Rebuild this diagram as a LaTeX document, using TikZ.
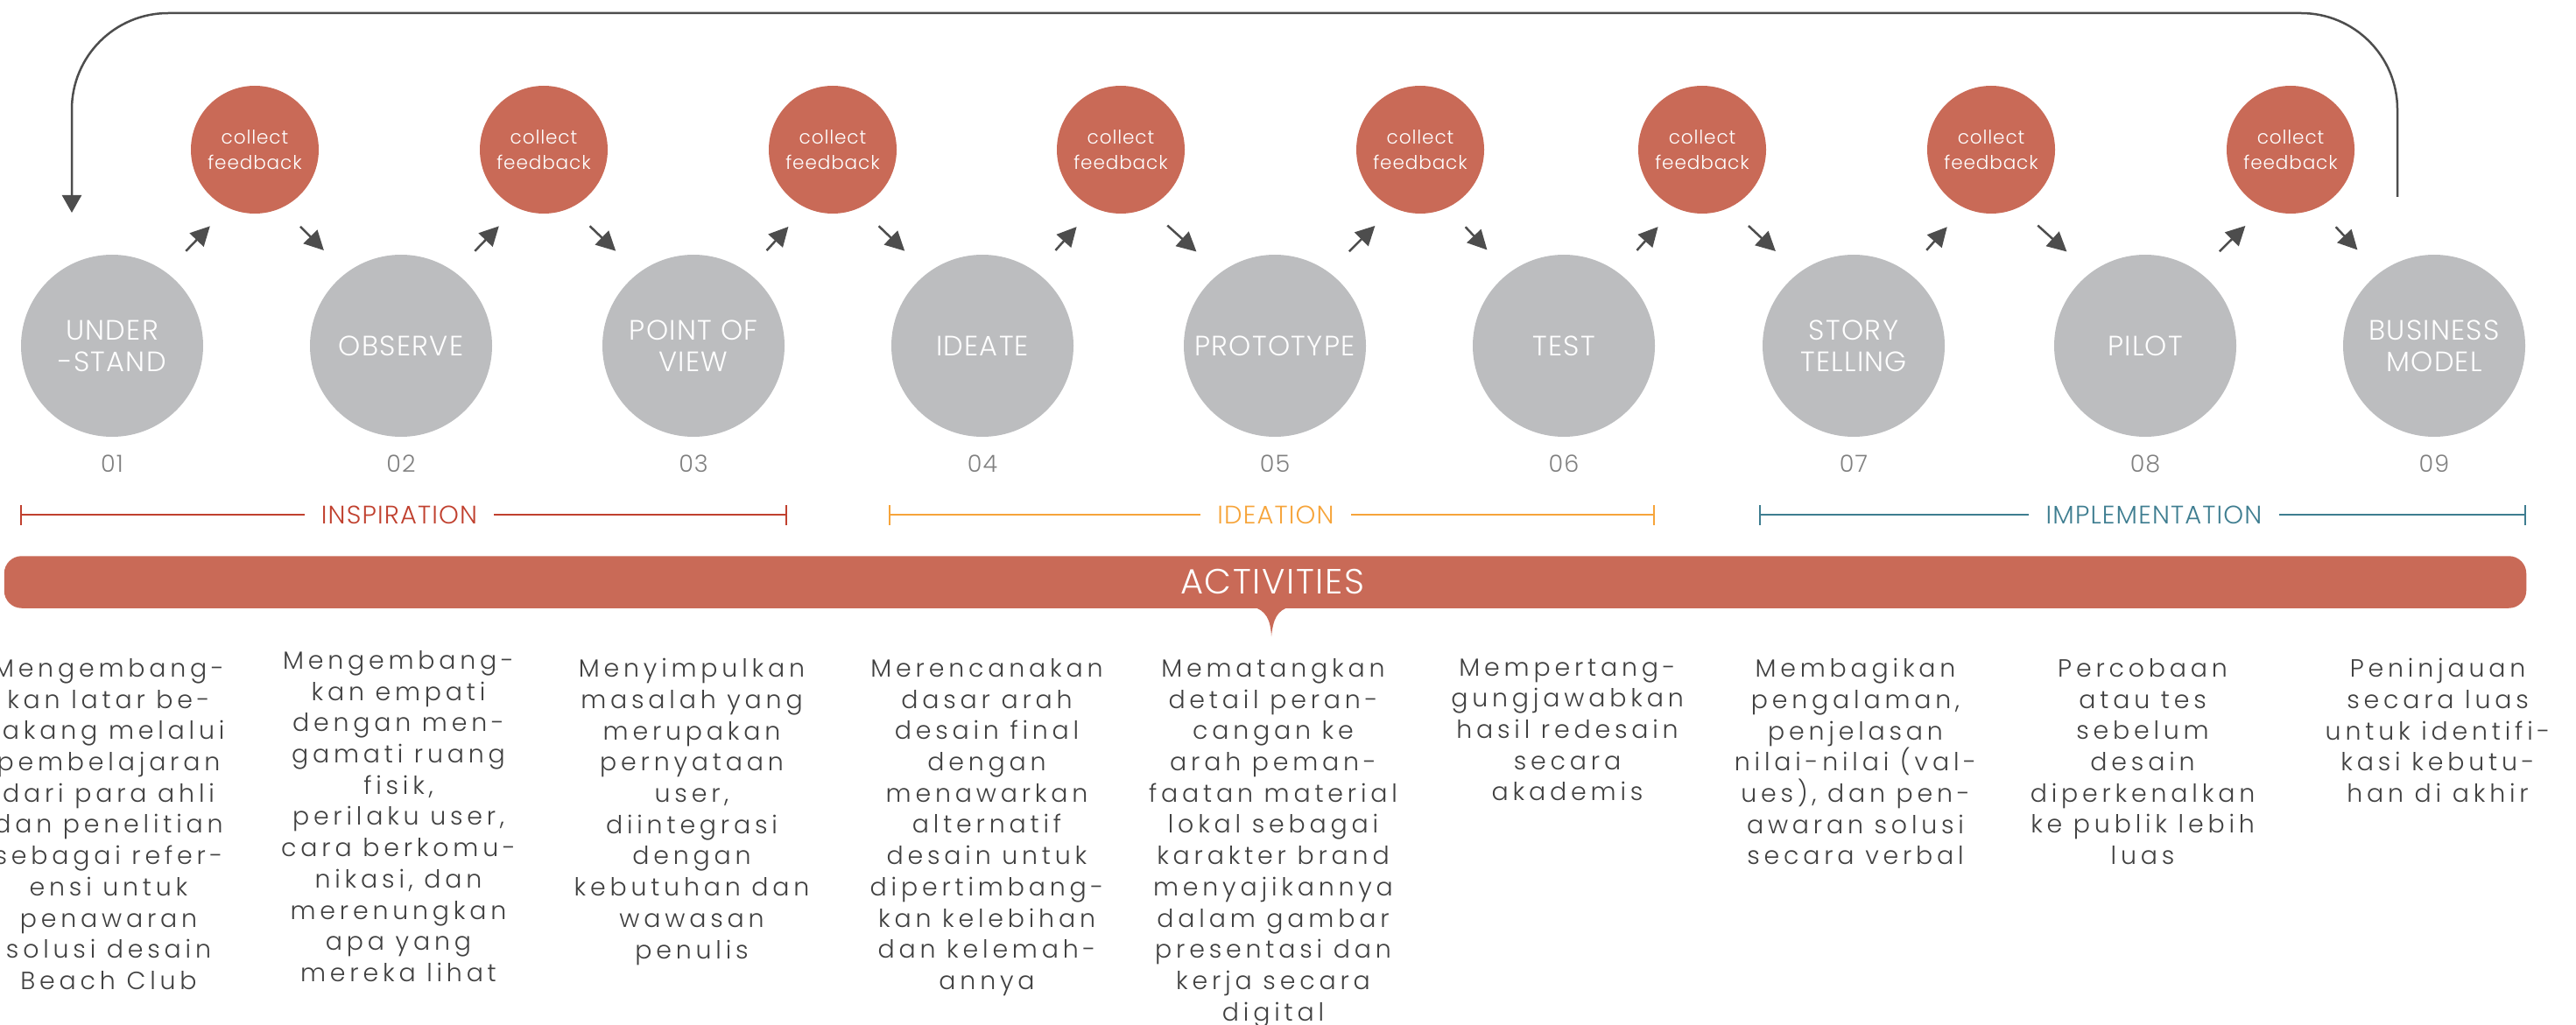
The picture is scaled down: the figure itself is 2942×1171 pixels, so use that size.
\documentclass[tikz,border=0pt]{standalone}
\usepackage{fontspec}
\setmainfont{Poppins Light}
\newfontfamily\hfont{Poppins Light}[LetterSpace=4]
\newfontfamily\bfont{Poppins Light}[LetterSpace=17]
\usetikzlibrary{arrows.meta}
\definecolor{cfb}{HTML}{C96A57}
\definecolor{cgray}{HTML}{BCBDBF}
\definecolor{carrow}{HTML}{4D4D4D}
\definecolor{cinsp}{HTML}{C0402E}
\definecolor{cidea}{HTML}{F6A43A}
\definecolor{cimpl}{HTML}{3E7D90}
\definecolor{ctext}{HTML}{404040}
\definecolor{cnum}{HTML}{808080}
\begin{document}
\begin{tikzpicture}[x=0.5pt,y=-0.5pt,
  big/.style={circle, fill=cgray, minimum size=104pt, inner sep=0pt, text=white,
    font=\hfont\fontsize{16pt}{18pt}\selectfont, align=center},
  fb/.style={circle, fill=cfb, minimum size=73pt, inner sep=0pt, text=white,
    font=\hfont\fontsize{10.8pt}{14.25pt}\selectfont, align=center},
  num/.style={text=cnum, font=\hfont\fontsize{13.5pt}{15pt}\selectfont},
  fbarrow/.style={draw=carrow, line width=1.25pt, -{Triangle[length=11pt,width=11pt]}},
  uparrow/.style={fbarrow, shorten <=16.5pt, shorten >=14.5pt},
  dnarrow/.style={fbarrow, shorten <=15pt, shorten >=18pt},
  loopline/.style={draw=carrow, line width=1.25pt, rounded corners=55pt},
  phase/.style={font=\hfont\fontsize{14.5pt}{16pt}\selectfont, inner xsep=9.5pt, inner ysep=0pt},
  phaseline/.style={line width=0.8pt},
  body/.style={anchor=north, align=center, inner sep=0pt, text=ctext,
    font=\bfont\fontsize{14.2pt}{17.85pt}\selectfont},
  actbar/.style={fill=cfb, rounded corners=10pt, minimum width=1440.25pt, minimum height=29.75pt, inner sep=0pt},
  acttext/.style={text=white, font=\hfont\fontsize{20pt}{22pt}\selectfont}
]
\useasboundingbox (0,0) rectangle (2942,1171);

% big circles
\node[big] (b1) at (128,395) {UNDER\\-STAND};
\node[big] (b2) at (458,395) {OBSERVE};
\node[big] (b3) at (792,395) {POINT OF\\VIEW};
\node[big] (b4) at (1122,395) {IDEATE};
\node[big] (b5) at (1456,395) {PROTOTYPE};
\node[big] (b6) at (1786,395) {TEST};
\node[big] (b7) at (2117,395) {STORY\\TELLING};
\node[big] (b8) at (2450,395) {PILOT};
\node[big] (b9) at (2780,395) {BUSINESS\\MODEL};

% feedback circles
\node[fb] (f1) at (291,171) {collect\\feedback};
\node[fb] (f2) at (621,171) {collect\\feedback};
\node[fb] (f3) at (951,171) {collect\\feedback};
\node[fb] (f4) at (1280,171) {collect\\feedback};
\node[fb] (f5) at (1622,171) {collect\\feedback};
\node[fb] (f6) at (1944,171) {collect\\feedback};
\node[fb] (f7) at (2274,171) {collect\\feedback};
\node[fb] (f8) at (2616,171) {collect\\feedback};

% arrows
\foreach \i [evaluate=\i as \j using int(\i+1)] in {1,...,8}{
  \draw[uparrow] (b\i.54) -- (f\i.245);
  \draw[dnarrow] (f\i.295) -- (b\j.127);
}

% numbers
\node[num] (n1) at (128,530) {01};
\node[num] (n2) at (458,530) {02};
\node[num] (n3) at (792,530) {03};
\node[num] (n4) at (1122,530) {04};
\node[num] (n5) at (1456,530) {05};
\node[num] (n6) at (1786,530) {06};
\node[num] (n7) at (2117,530) {07};
\node[num] (n8) at (2450,530) {08};
\node[num] (n9) at (2780,530) {09};

% feedback loop
\coordinate (ls) at (2738,225);
\coordinate (le) at (82,243);
\draw[loopline, -{Triangle[length=10pt,width=11pt]}] (ls) |- (1400,15) -| (le);

% phases
\coordinate (inspL) at (24,588);
\coordinate (inspR) at (898,588);
\node[phase, text=cinsp] (insp) at (456,588) {INSPIRATION};
\draw[phaseline, cinsp] (inspL) -- (insp.west) (insp.east) -- (inspR);
\draw[phaseline, cinsp] ([yshift=-5.75pt]inspL) -- ([yshift=5.75pt]inspL);
\draw[phaseline, cinsp] ([yshift=-5.75pt]inspR) -- ([yshift=5.75pt]inspR);

\coordinate (ideaL) at (1016,588);
\coordinate (ideaR) at (1889,588);
\node[phase, text=cidea] (idea) at (1457,588) {IDEATION};
\draw[phaseline, cidea] (ideaL) -- (idea.west) (idea.east) -- (ideaR);
\draw[phaseline, cidea] ([yshift=-5.75pt]ideaL) -- ([yshift=5.75pt]ideaL);
\draw[phaseline, cidea] ([yshift=-5.75pt]ideaR) -- ([yshift=5.75pt]ideaR);

\coordinate (implL) at (2010,588);
\coordinate (implR) at (2884,588);
\node[phase, text=cimpl] (impl) at (2460,588) {IMPLEMENTATION};
\draw[phaseline, cimpl] (implL) -- (impl.west) (impl.east) -- (implR);
\draw[phaseline, cimpl] ([yshift=-5.75pt]implL) -- ([yshift=5.75pt]implL);
\draw[phaseline, cimpl] ([yshift=-5.75pt]implR) -- ([yshift=5.75pt]implR);

% activities bar
\node[actbar] (act) at (1445,665) {};
\fill[cfb] (1430,693) .. controls (1446,697) and (1451,708) .. (1452,727)
  .. controls (1454,708) and (1458,697) .. (1474,693) -- cycle;
\node[acttext] (acttxt) at (1453,664) {ACTIVITIES};

% activity texts
\node[body] (t1) at (124,752) {Mengembang-\\kan latar be-\\lakang melalui\\pembelajaran\\dari para ahli\\dan penelitian\\sebagai refer-\\ensi untuk\\penawaran\\solusi desain\\Beach Club};
\node[body] (t2) at (455,743) {Mengembang-\\kan empati\\dengan men-\\gamati ruang\\fisik,\\perilaku user,\\cara berkomu-\\nikasi, dan\\merenungkan\\apa yang\\mereka lihat};
\node[body] (t3) at (790,752) {Menyimpulkan\\masalah yang\\merupakan\\pernyataan\\user,\\diintegrasi\\dengan\\kebutuhan dan\\wawasan\\penulis};
\node[body] (t4) at (1127,752) {Merencanakan\\dasar arah\\desain final\\dengan\\menawarkan\\alternatif\\desain untuk\\dipertimbang-\\kan kelebihan\\dan kelemah-\\annya};
\node[body] (t5) at (1454,752) {Mematangkan\\detail peran-\\cangan ke\\arah peman-\\faatan material\\lokal sebagai\\karakter brand\\menyajikannya\\dalam gambar\\presentasi dan\\kerja secara\\digital};
\node[body] (t6) at (1790,752) {Mempertang-\\gungjawabkan\\hasil redesain\\secara\\akademis};
\node[body] (t7) at (2119,752) {Membagikan\\pengalaman,\\penjelasan\\nilai-nilai (val-\\ues), dan pen-\\awaran solusi\\secara verbal};
\node[body] (t8) at (2447,752) {Percobaan\\atau tes\\sebelum\\desain\\diperkenalkan\\ke publik lebih\\luas};
\node[body] (t9) at (2784,752) {Peninjauan\\secara luas\\untuk identifi-\\kasi kebutu-\\han di akhir};
\end{tikzpicture}
\end{document}
